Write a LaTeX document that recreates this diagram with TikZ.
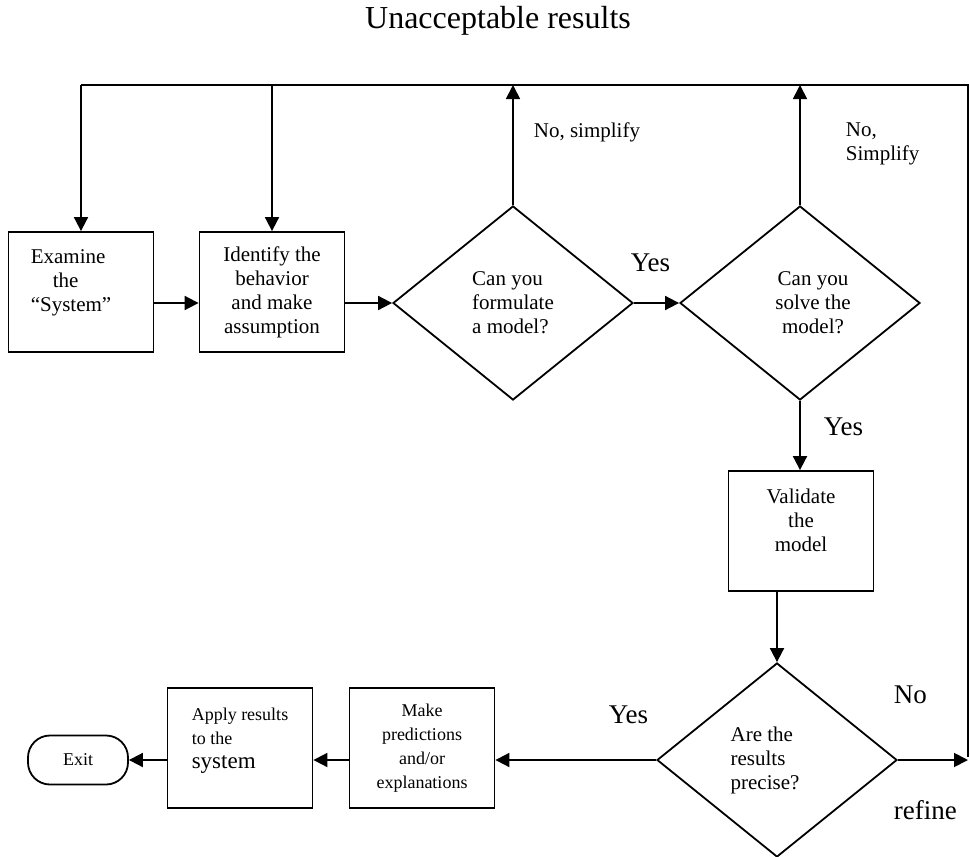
\documentclass[tikz,border=0pt]{standalone}
\usepackage{fontspec}
\setmainfont{Liberation Serif}
\usetikzlibrary{arrows.meta,shapes.geometric}

\begin{document}
\begin{tikzpicture}[x=1pt,y=-1pt,line width=1.8pt,
        >={Triangle[length=14pt,width=14pt]},
        box/.style={draw,rectangle,minimum width=145pt,minimum height=120pt,inner sep=0pt,align=center,font=\fontsize{21}{24}\selectfont},
        test/.style={draw,diamond,minimum width=240pt,minimum height=194pt,inner sep=0pt,align=center,font=\fontsize{21}{24}\selectfont},
        note/.style={inner sep=0pt,font=\fontsize{21}{24}\selectfont},
        big/.style={inner sep=0pt,font=\fontsize{27}{30}\selectfont}]
    \useasboundingbox (0,0) rectangle (970,857);
    \node[font=\fontsize{32}{36}\selectfont,anchor=base,inner sep=0pt] (title) at (498,28) {Unacceptable results};
    \node[box,align=left] (examine) at (81,292) {Examine\\\hspace*{22pt}the\\“System”\rule{20pt}{0pt}\\[-2pt]~};
    \node[box] (identify) at (272,292) {Identify the\\behavior\\and make\\assumption};
    \node[test,align=left] (formulate) at (513,303) {Can you\\formulate\\a model?};
    \node[test] (solve) at (800,303) {\rule{26pt}{0pt}Can you\\\rule{26pt}{0pt}solve the\\\rule{26pt}{0pt}model?};
    \node[box] (validate) at (801,531) {Validate\\the\\model\\[-2pt]~};
    \node[test,align=left] (precise) at (777,760) {Are the\\results\\precise?\rule{24pt}{0pt}};
    \node[box,font=\fontsize{18}{24}\selectfont] (predict) at (422,748) {Make\\predictions\\and/or\\explanations};
    \node[box,align=left,font=\fontsize{18}{24}\selectfont] (apply) at (240,748) {Apply results\\to the\\{\fontsize{23}{24}\selectfont system}\\[-4pt]~};
    \node[draw,rounded corners=22pt,minimum width=100pt,minimum height=49pt,font=\fontsize{18}{22}\selectfont] (exit) at (78,760) {Exit};

    \node[note,anchor=base west] (nosimplify) at (533,137) {No, simplify};
    \node[note,anchor=north west,align=left] (noSimplify) at (845,122) {No,\\Simplify};
    \node[big,anchor=base west] (yesformulate) at (630,271) {Yes};
    \node[big,anchor=base west] (yessolve) at (823,435) {Yes};
    \node[big,anchor=base west] (yesprecise) at (608,723) {Yes};
    \node[big,anchor=base west] (noprecise) at (893,703) {No};
    \node[big,anchor=base west] (refine) at (893,819) {refine};

    \coordinate (topleft) at (81,85);
    \coordinate (topright) at (968,85);
    \coordinate (botright) at (968,757);

    \draw[->] (examine.east |- formulate.west) -- (identify.west |- formulate.west);
    \draw[->] (identify.east |- formulate.west) -- (formulate.west);
    \draw[->] (formulate.east) -- (solve.west);
    \draw[->] (solve.south) -- (solve.south |- validate.north);
    \draw[->] (precise.north |- validate.south) -- (precise.north);
    \draw[->] (precise.west) -- (precise.west -| predict.east);
    \draw[->] (predict.west |- exit) -- (apply.east |- exit);
    \draw[->] (apply.west |- exit) -- (exit.east);
    \draw[->] (precise.east) -- (botright |- precise.east);
    \draw (botright) -- (topright) -- (topleft);
    \draw[->] (topleft) -- (examine.north);
    \draw[->] (identify.north |- topleft) -- (identify.north);
    \draw[->] (formulate.north) -- (formulate.north |- topleft);
    \draw[->] (solve.north) -- (solve.north |- topleft);
\end{tikzpicture}
\end{document}
